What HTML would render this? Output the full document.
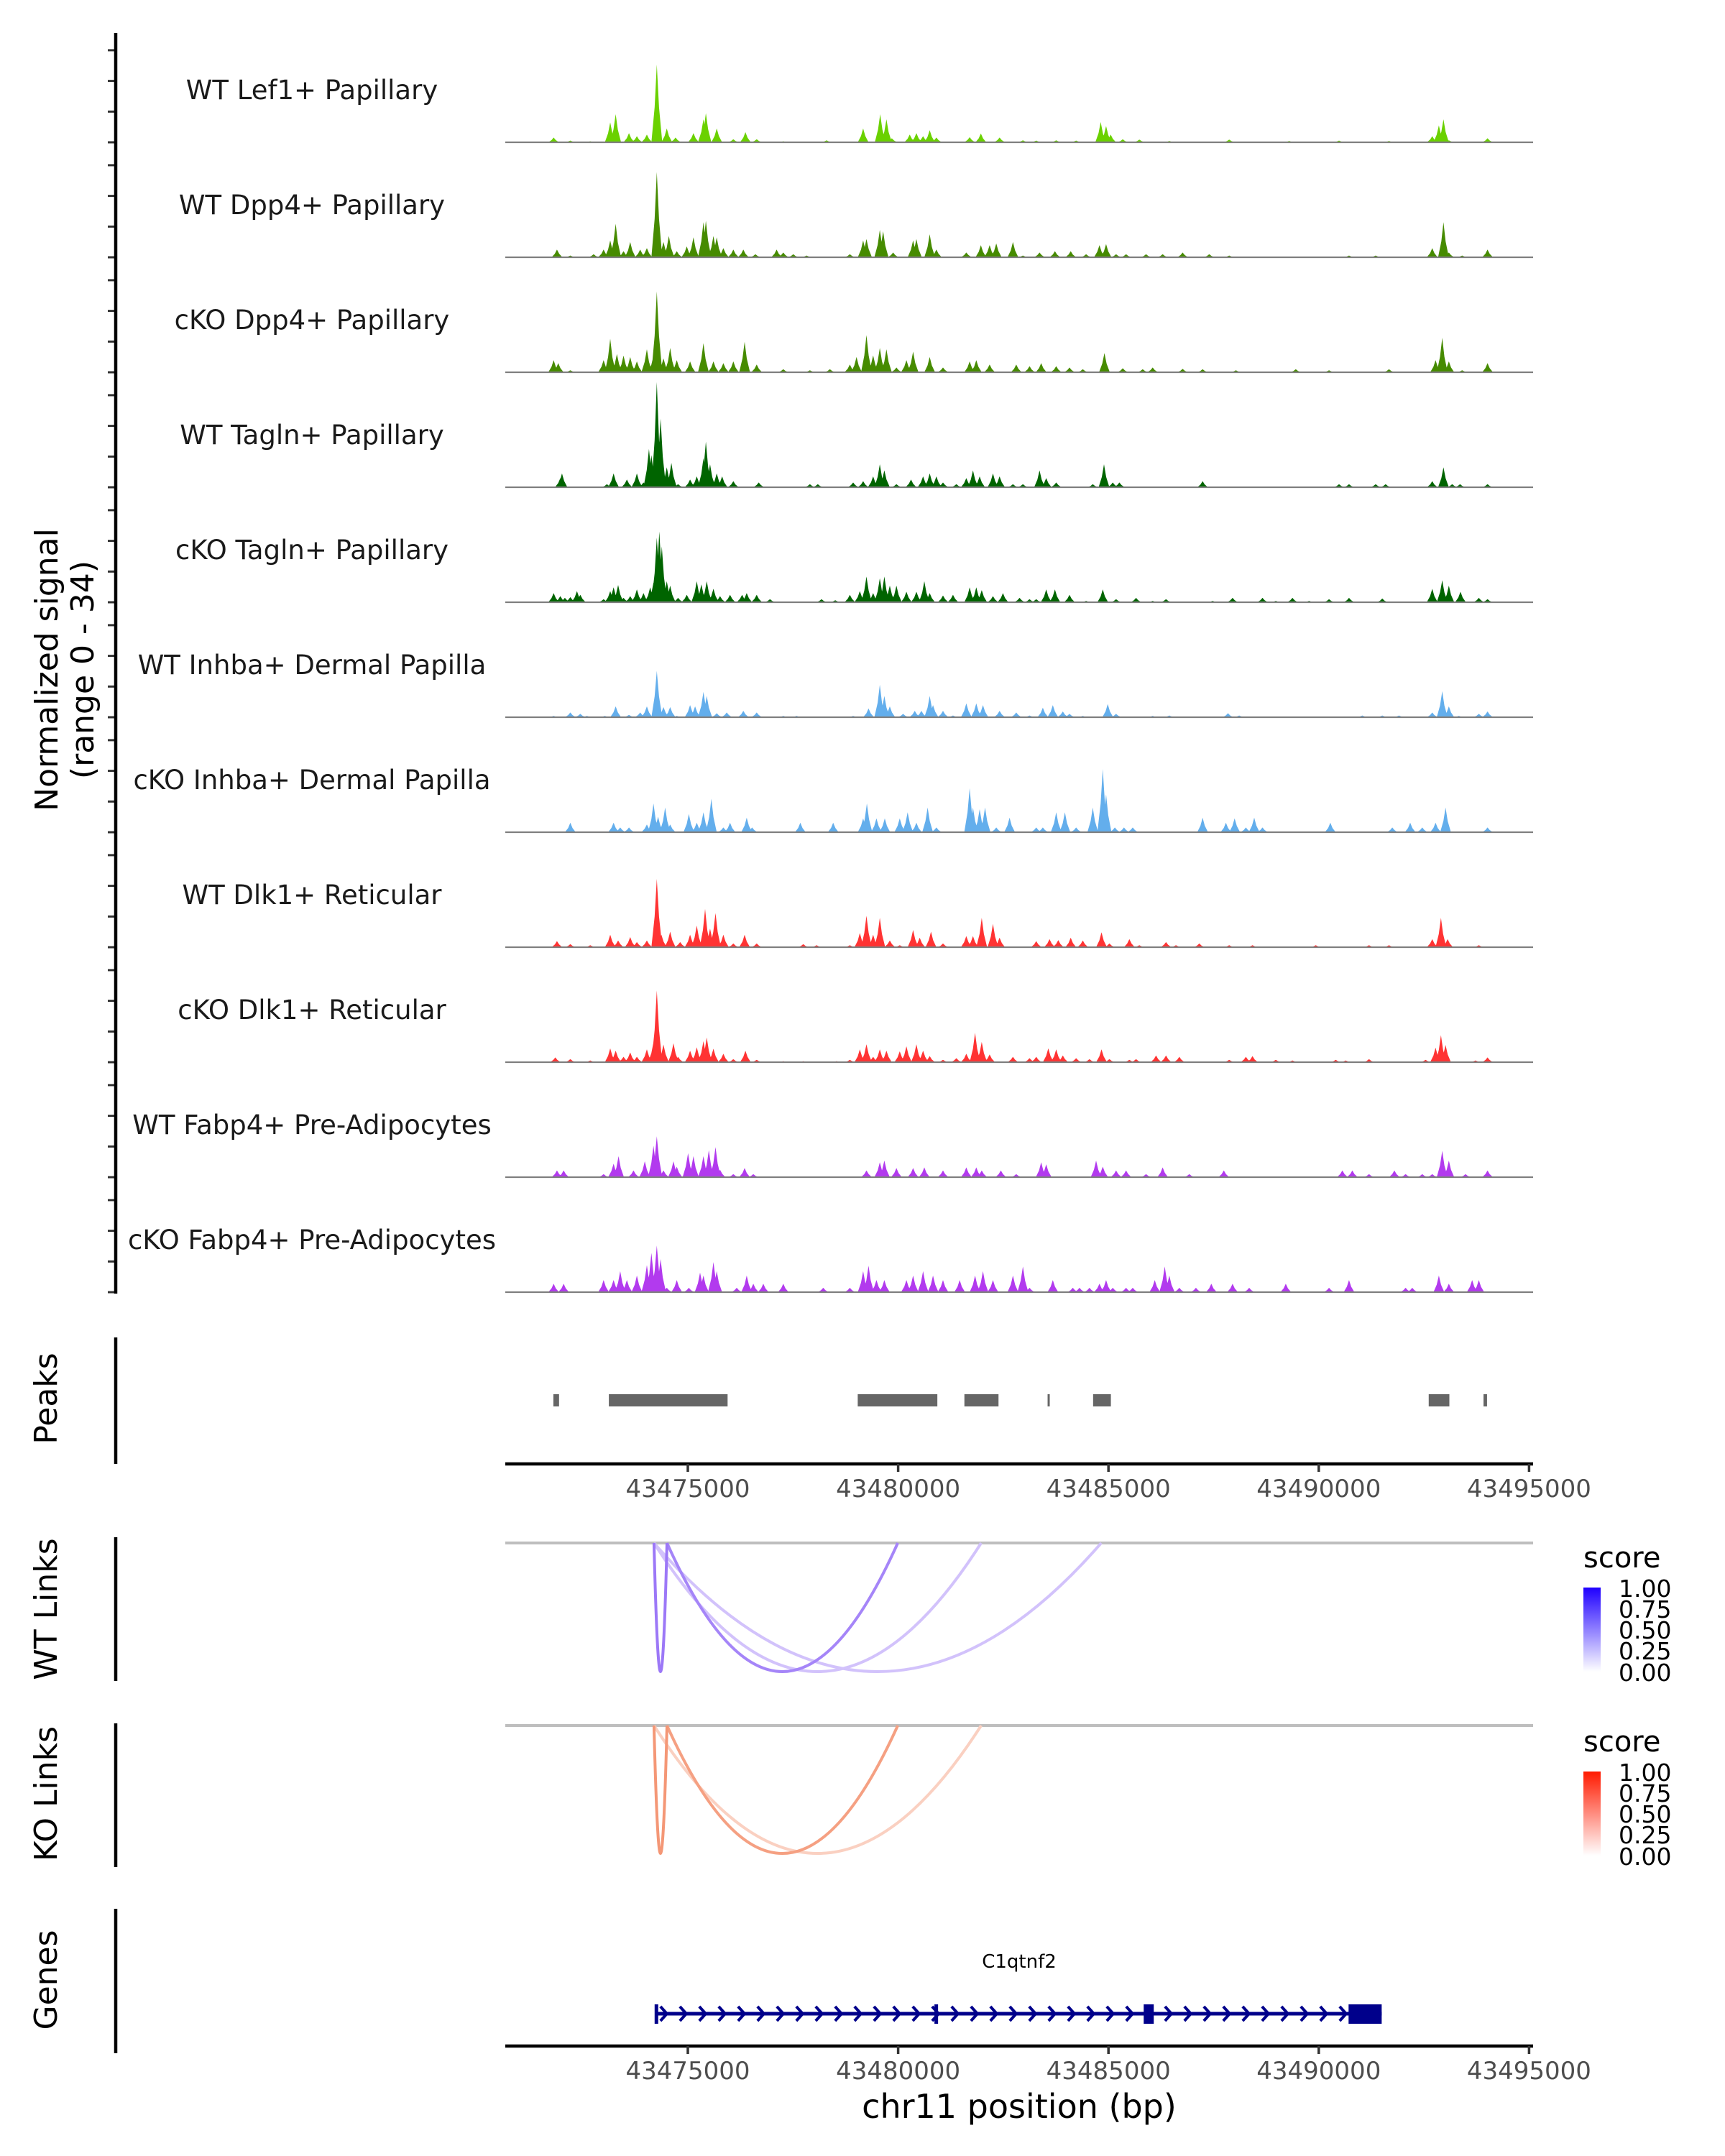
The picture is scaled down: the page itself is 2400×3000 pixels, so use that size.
<!DOCTYPE html>
<html><head><meta charset="utf-8"><title>C1qtnf2 coverage plot</title>
<style>
html,body{margin:0;padding:0;background:#fff;}
svg{display:block;font-family:"DejaVu Sans","Liberation Sans",sans-serif;}
</style></head>
<body>
<svg id="chart" xmlns="http://www.w3.org/2000/svg" width="2400" height="3000" viewBox="0 0 2400 3000">
  <rect x="0" y="0" width="2400" height="3000" fill="#fff"/>
  <g id="tracks"></g>
  <g id="peaks"></g>
  <g id="links"></g>
  <g id="genes"></g>
  <g id="axes"></g>
  <text x="0" y="0" transform="translate(80,932) rotate(-90)" text-anchor="middle" font-size="44" fill="#000">Normalized signal</text>
  <text x="0" y="0" transform="translate(130,932) rotate(-90)" text-anchor="middle" font-size="44" fill="#000">(range 0 - 34)</text>
  <text x="0" y="0" transform="translate(79,1946) rotate(-90)" text-anchor="middle" font-size="44" fill="#000">Peaks</text>
  <text x="0" y="0" transform="translate(79,2239) rotate(-90)" text-anchor="middle" font-size="44" fill="#000">WT Links</text>
  <text x="0" y="0" transform="translate(79,2496) rotate(-90)" text-anchor="middle" font-size="44" fill="#000">KO Links</text>
  <text x="0" y="0" transform="translate(79,2755) rotate(-90)" text-anchor="middle" font-size="44" fill="#000">Genes</text>
  <text x="1418" y="2947" text-anchor="middle" font-size="46" fill="#000">chr11 position (bp)</text>
  <defs>
    <linearGradient id="gradBlue" x1="0" y1="1" x2="0" y2="0">
      <stop offset="0" stop-color="#ffffff"/><stop offset="1" stop-color="#1f00ff"/>
    </linearGradient>
    <linearGradient id="gradRed" x1="0" y1="1" x2="0" y2="0">
      <stop offset="0" stop-color="#ffffff"/><stop offset="1" stop-color="#ff1a00"/>
    </linearGradient>
  </defs>
  <g>
    <text x="2203" y="2181" font-size="40" fill="#000">score</text>
    <rect x="2203" y="2209" width="24" height="117" fill="url(#gradBlue)"/>
    <g font-size="33" fill="#000">
      <text x="2252" y="2222">1.00</text><text x="2252" y="2251">0.75</text><text x="2252" y="2280">0.50</text><text x="2252" y="2309">0.25</text><text x="2252" y="2339">0.00</text>
    </g>
  </g>
  <g>
    <text x="2203" y="2437" font-size="40" fill="#000">score</text>
    <rect x="2203" y="2465" width="24" height="117" fill="url(#gradRed)"/>
    <g font-size="33" fill="#000">
      <text x="2252" y="2478">1.00</text><text x="2252" y="2507">0.75</text><text x="2252" y="2536">0.50</text><text x="2252" y="2565">0.25</text><text x="2252" y="2595">0.00</text>
    </g>
  </g>
</svg>
<script>
// ---- data (positions in kb offset from 43,470,000; values = normalized signal) ----
const REGION_OFFSET = 43470000;
const POS_ANCHOR = 43471800, POS_CALIB = 0.989;
const trackNames = ["WT Lef1+ Papillary","WT Dpp4+ Papillary","cKO Dpp4+ Papillary","WT Tagln+ Papillary","cKO Tagln+ Papillary","WT Inhba+ Dermal Papilla","cKO Inhba+ Dermal Papilla","WT Dlk1+ Reticular","cKO Dlk1+ Reticular","WT Fabp4+ Pre-Adipocytes","cKO Fabp4+ Pre-Adipocytes"];
const trackColors = ["#6ad100","#468b00","#468b00","#006400","#006400","#63aeec","#63aeec","#ff3333","#ff3333","#b23aee","#b23aee"];
const sigLef1WT = [[1.81,1.4],[2.21,0.5],[2.69,0.3],[3.17,5.9],[3.30,8.3],[3.62,2.7],[3.81,1.8],[4.05,2.3],[4.29,23.0],[4.53,4.1],[4.74,1.4],[5.17,2.7],[5.41,6.8],[5.47,8.6],[5.73,4.1],[6.13,0.9],[6.42,3.0],[6.69,0.9],[7.33,0.3],[8.37,0.6],[9.25,4.1],[9.66,8.3],[9.81,6.8],[9.94,1.2],[10.37,2.3],[10.53,2.7],[10.69,1.8],[10.85,3.6],[11.01,1.4],[11.81,1.5],[12.08,2.6],[12.53,1.4],[13.09,0.6],[13.41,0.5],[13.89,0.6],[14.37,0.5],[14.96,6.0],[15.09,4.8],[15.20,2.3],[15.49,0.9],[15.89,0.8],[16.61,0.4],[18.05,0.8],[19.49,0.4],[20.69,0.5],[21.89,0.4],[22.93,1.8],[23.09,5.0],[23.20,6.8],[23.33,0.6],[24.26,1.2]];
const sigDpp4WT = [[1.89,2.3],[2.21,0.5],[2.77,0.9],[3.01,2.3],[3.17,5.0],[3.30,9.9],[3.49,1.8],[3.65,4.5],[3.89,2.3],[4.05,2.7],[4.29,25.2],[4.45,4.5],[4.58,6.3],[4.77,1.8],[5.01,3.2],[5.17,5.9],[5.41,10.4],[5.47,10.8],[5.65,6.3],[5.73,5.9],[5.89,2.7],[6.13,2.3],[6.37,2.3],[6.66,0.9],[7.17,2.3],[7.33,1.4],[7.57,0.9],[7.89,0.5],[8.93,0.9],[9.25,5.0],[9.33,5.4],[9.65,8.1],[9.73,7.7],[9.97,1.4],[10.45,5.0],[10.53,5.4],[10.85,6.8],[11.01,2.3],[11.73,1.4],[12.08,3.6],[12.29,3.6],[12.45,4.1],[12.85,4.5],[13.09,0.5],[13.49,1.4],[13.86,1.8],[14.24,1.8],[14.61,0.9],[14.93,3.6],[15.09,3.9],[15.33,0.9],[15.57,0.9],[16.05,0.9],[16.45,0.9],[16.93,1.4],[17.57,0.9],[18.05,0.5],[20.93,0.5],[21.57,0.5],[22.93,2.7],[23.20,10.4],[23.33,1.4],[23.65,0.5],[24.26,2.3]];
const sigDpp4KO = [[1.81,3.6],[1.92,2.7],[2.21,0.6],[3.01,3.6],[3.17,9.9],[3.33,5.4],[3.49,4.9],[3.65,4.5],[3.81,3.2],[4.05,6.8],[4.21,4.9],[4.29,23.9],[4.45,4.1],[4.61,7.2],[4.77,3.6],[5.09,3.2],[5.41,8.6],[5.65,3.2],[5.89,2.7],[6.13,3.2],[6.40,9.0],[6.69,2.3],[7.33,0.9],[7.97,0.6],[8.45,0.9],[8.93,2.3],[9.09,4.5],[9.33,11.0],[9.49,5.0],[9.65,7.2],[9.81,6.8],[10.05,1.4],[10.29,3.6],[10.45,6.1],[10.85,4.5],[11.17,1.4],[11.81,3.2],[11.97,3.6],[12.29,2.3],[12.93,2.3],[13.25,1.8],[13.53,2.7],[13.89,1.8],[14.21,1.4],[14.53,0.9],[15.05,5.7],[15.49,1.2],[15.97,0.9],[16.21,1.4],[16.93,1.0],[17.41,0.9],[18.21,0.6],[19.65,0.9],[20.45,0.6],[21.89,0.9],[23.01,3.6],[23.17,10.2],[23.33,3.2],[23.65,0.6],[24.26,2.7]];
const sigTaglnWT = [[1.97,2.7],[2.01,4.1],[3.09,0.9],[3.25,4.1],[3.57,2.3],[3.81,4.1],[3.97,1.4],[4.10,11.3],[4.16,9.5],[4.29,31.1],[4.38,20.3],[4.53,5.9],[4.64,7.2],[4.80,0.9],[5.09,2.3],[5.25,3.2],[5.41,8.6],[5.47,13.5],[5.57,6.8],[5.73,4.1],[5.86,3.2],[6.13,1.8],[6.74,1.4],[7.97,0.9],[8.16,0.9],[9.01,1.4],[9.25,1.8],[9.49,3.2],[9.65,6.8],[9.76,5.0],[10.05,0.9],[10.40,2.3],[10.69,3.2],[10.85,4.1],[11.01,3.2],[11.17,1.4],[11.49,0.9],[11.73,2.7],[11.89,5.0],[12.05,3.2],[12.37,4.1],[12.53,3.2],[12.85,0.9],[13.09,0.9],[13.49,5.0],[13.65,2.7],[13.89,1.4],[14.77,0.9],[15.04,6.8],[15.25,1.4],[15.41,1.4],[17.41,1.8],[20.69,0.9],[20.93,0.9],[21.57,0.9],[21.81,0.9],[22.93,1.8],[23.20,5.9],[23.41,0.9],[23.60,0.9],[24.26,0.9]];
const sigTaglnKO = [[1.81,2.7],[1.97,1.8],[2.08,1.3],[2.21,1.5],[2.37,3.3],[2.45,2.2],[3.01,0.9],[3.17,3.3],[3.25,4.4],[3.36,5.1],[3.49,1.3],[3.65,1.8],[3.81,3.8],[3.97,2.7],[4.13,4.4],[4.21,5.8],[4.29,19.1],[4.35,20.9],[4.41,16.5],[4.53,6.2],[4.61,4.9],[4.80,1.3],[5.01,2.2],[5.25,6.2],[5.36,5.3],[5.49,6.2],[5.65,4.0],[5.81,1.8],[6.05,2.2],[6.34,2.2],[6.45,2.7],[6.69,2.2],[7.01,0.9],[8.25,0.9],[8.58,0.6],[8.93,2.2],[9.17,3.3],[9.33,7.6],[9.49,2.7],[9.65,7.1],[9.76,7.6],[9.89,4.9],[10.05,4.9],[10.29,3.1],[10.53,3.1],[10.72,6.2],[10.85,2.7],[11.17,2.0],[11.41,2.2],[11.81,4.4],[11.97,4.4],[12.10,3.6],[12.37,1.8],[12.61,2.7],[13.01,1.3],[13.25,0.9],[13.41,0.9],[13.65,3.8],[13.86,3.8],[14.21,2.2],[14.61,0.4],[15.01,3.8],[15.33,0.9],[15.81,1.3],[16.21,0.4],[16.53,0.9],[17.65,0.4],[18.13,1.3],[18.85,1.3],[19.17,0.4],[19.57,1.3],[19.97,0.4],[20.45,0.9],[20.93,1.3],[21.73,1.1],[22.93,4.0],[23.17,6.5],[23.33,4.9],[23.61,3.1],[24.05,1.3],[24.26,0.9]];
const sigInhbaWT = [[1.81,0.4],[2.21,1.4],[2.45,1.0],[2.61,0.4],[3.04,0.4],[3.30,3.2],[3.62,0.7],[3.89,1.4],[4.05,3.2],[4.29,13.7],[4.45,3.0],[4.61,3.0],[4.77,0.4],[5.09,3.6],[5.21,3.2],[5.41,7.5],[5.49,6.3],[5.73,1.2],[5.97,1.4],[6.37,1.9],[6.69,1.4],[7.33,0.4],[7.65,0.4],[9.01,0.4],[9.38,2.6],[9.65,9.6],[9.76,6.3],[9.89,3.2],[10.21,1.0],[10.49,1.9],[10.65,1.9],[10.85,6.3],[10.93,3.6],[11.17,1.9],[11.41,0.5],[11.73,4.1],[11.97,4.1],[12.13,3.6],[12.53,1.9],[12.93,1.4],[13.25,0.5],[13.57,2.8],[13.81,3.6],[14.05,1.7],[14.21,1.0],[14.53,0.4],[15.13,3.9],[15.33,1.0],[16.21,0.4],[16.61,0.5],[18.02,1.2],[18.29,0.5],[21.25,0.5],[21.73,0.5],[22.13,0.5],[22.93,1.4],[23.17,7.7],[23.33,3.2],[23.57,0.4],[24.05,1.0],[24.26,1.7]];
const sigInhbaKO = [[2.21,2.8],[3.25,2.8],[3.41,1.4],[3.62,1.4],[4.05,2.3],[4.21,8.5],[4.32,4.6],[4.49,7.3],[4.61,2.3],[5.06,5.4],[5.25,2.8],[5.41,5.9],[5.60,9.9],[5.89,1.4],[6.05,2.8],[6.45,4.3],[6.58,1.4],[7.74,2.8],[8.53,2.8],[9.25,4.1],[9.34,8.5],[9.57,4.1],[9.77,4.1],[10.13,4.1],[10.32,5.9],[10.53,2.8],[10.80,7.3],[11.01,1.4],[11.81,13.0],[11.89,7.3],[12.05,6.8],[12.18,7.3],[12.45,1.4],[12.77,4.3],[13.41,1.4],[13.57,1.4],[13.89,5.9],[14.10,5.9],[14.37,1.4],[14.77,7.3],[15.01,18.7],[15.09,11.2],[15.30,1.4],[15.52,1.4],[15.73,1.4],[17.41,4.3],[17.97,2.8],[18.18,4.1],[18.45,1.4],[18.65,4.3],[18.85,1.4],[20.48,2.8],[21.97,1.4],[22.40,2.8],[22.69,1.4],[23.01,2.8],[23.25,7.3],[24.26,1.4]];
const sigDlk1WT = [[1.89,1.8],[2.21,0.9],[2.69,0.6],[3.17,3.7],[3.36,2.0],[3.65,3.0],[3.81,1.5],[4.05,2.0],[4.29,20.2],[4.40,3.7],[4.61,4.6],[4.85,1.5],[5.09,3.7],[5.25,6.4],[5.45,11.3],[5.57,5.5],[5.70,10.1],[5.89,3.7],[6.13,1.1],[6.40,3.7],[6.69,1.1],[7.81,0.9],[8.13,0.6],[8.93,0.6],[9.17,4.2],[9.33,9.3],[9.49,3.7],[9.65,8.7],[9.89,2.0],[10.13,0.6],[10.45,5.1],[10.61,2.8],[10.88,4.6],[11.17,1.1],[11.73,3.3],[11.89,3.3],[12.10,8.7],[12.37,6.9],[12.53,2.8],[13.41,1.8],[13.73,2.4],[13.94,2.1],[14.24,2.8],[14.53,2.0],[14.98,4.4],[15.17,1.1],[15.65,2.4],[15.89,0.6],[16.53,1.5],[16.77,0.6],[17.33,1.1],[18.05,0.6],[18.61,0.6],[20.13,0.6],[21.41,0.6],[21.89,0.6],[22.93,2.4],[23.14,8.7],[23.30,2.4],[24.05,0.6]];
const sigDlk1KO = [[1.85,1.4],[2.21,0.9],[2.69,0.5],[3.17,4.1],[3.30,3.4],[3.49,1.6],[3.65,2.9],[3.81,1.6],[4.05,3.8],[4.21,5.9],[4.29,21.2],[4.45,5.2],[4.69,5.6],[4.80,1.6],[5.09,3.4],[5.25,4.4],[5.41,6.2],[5.49,7.3],[5.65,4.0],[5.89,2.5],[6.13,0.9],[6.42,3.4],[6.69,0.7],[7.33,0.3],[7.81,0.3],[8.61,0.3],[8.93,0.7],[9.17,3.8],[9.33,5.3],[9.49,1.6],[9.65,3.8],[9.81,3.4],[10.13,3.2],[10.29,4.7],[10.53,5.3],[10.69,3.4],[10.85,1.8],[11.17,0.7],[11.49,1.2],[11.73,2.5],[11.94,8.7],[12.10,6.0],[12.29,2.3],[12.85,1.6],[13.25,1.2],[13.41,1.6],[13.70,4.1],[13.89,3.8],[14.05,2.0],[14.37,1.2],[14.69,0.9],[14.98,3.8],[15.17,0.9],[15.65,0.7],[15.81,0.9],[16.29,2.0],[16.53,2.0],[16.85,1.6],[18.05,0.7],[18.45,1.6],[18.61,1.8],[19.17,0.7],[19.57,0.5],[20.61,0.7],[20.85,0.5],[21.41,0.9],[22.13,0.2],[22.77,0.7],[23.01,4.3],[23.14,8.0],[23.25,5.1],[23.97,0.5],[24.26,1.4]];
const sigFabp4WT = [[1.89,2.0],[2.05,2.0],[3.01,0.9],[3.25,4.0],[3.37,6.2],[3.73,2.0],[4.00,4.7],[4.21,9.3],[4.29,12.1],[4.45,2.0],[4.69,4.7],[4.77,3.1],[5.04,7.1],[5.17,6.2],[5.41,6.2],[5.54,8.0],[5.70,8.9],[5.81,2.2],[6.13,0.9],[6.40,2.7],[6.61,0.9],[9.33,2.0],[9.65,4.4],[9.76,4.9],[10.05,2.7],[10.45,2.7],[10.72,2.9],[11.17,2.0],[11.73,2.9],[11.97,2.9],[12.10,2.0],[12.56,2.0],[12.93,0.9],[13.53,4.4],[13.65,3.8],[14.85,4.9],[15.01,3.1],[15.33,2.0],[15.57,2.0],[16.05,0.9],[16.45,2.9],[17.09,0.9],[17.92,2.0],[20.77,2.0],[21.01,2.0],[21.41,0.9],[22.02,2.0],[22.29,0.9],[22.69,0.9],[22.93,0.9],[23.17,7.8],[23.33,4.9],[23.73,0.9],[24.26,2.0]];
const sigFabp4KO = [[1.81,2.5],[2.05,2.5],[3.01,3.6],[3.25,3.6],[3.41,6.2],[3.57,3.6],[3.81,4.9],[4.05,8.0],[4.16,11.6],[4.29,13.8],[4.38,9.8],[4.53,1.3],[4.77,3.6],[5.06,1.3],[5.33,5.8],[5.41,4.9],[5.65,8.9],[5.73,6.2],[6.21,1.3],[6.45,4.9],[6.61,2.5],[6.85,2.5],[7.33,2.5],[8.29,1.3],[8.93,1.3],[9.25,6.2],[9.38,7.8],[9.57,3.6],[9.76,3.6],[10.29,3.6],[10.45,4.9],[10.69,6.2],[10.93,4.9],[11.17,3.6],[11.57,3.6],[11.94,4.9],[12.13,6.2],[12.37,3.6],[12.85,4.9],[13.09,7.6],[13.25,1.3],[13.81,3.6],[14.29,1.3],[14.45,1.3],[14.69,1.3],[14.93,2.5],[15.09,3.6],[15.25,1.3],[15.57,1.3],[15.73,1.3],[16.26,3.6],[16.50,7.6],[16.61,4.9],[16.85,1.3],[17.25,1.3],[17.62,2.5],[18.13,2.5],[18.53,1.3],[19.41,2.5],[20.45,1.3],[20.93,3.6],[22.29,1.3],[22.45,1.3],[23.09,4.9],[23.33,2.5],[23.89,3.6],[24.05,3.6]];
const trackSignals = [sigLef1WT,sigDpp4WT,sigDpp4KO,sigTaglnWT,sigTaglnKO,sigInhbaWT,sigInhbaKO,sigDlk1WT,sigDlk1KO,sigFabp4WT,sigFabp4KO];
const peakStarts = [43471803,43473122,43479039,43481575,43483553,43484635,43492614,43493917];
const peakEnds   = [43471938,43475945,43480932,43482386,43483604,43485058,43493105,43494001];
const wtLinkStarts = [43474195,43474504,43474195,43474195];
const wtLinkEnds   = [43474504,43479991,43481974,43484829];
const wtLinkScores = [0.55,0.5,0.25,0.25];
const koLinkStarts = [43474195,43474504,43474195];
const koLinkEnds   = [43474504,43479991,43481974];
const koLinkScores = [0.55,0.5,0.25];
const geneStart = 43474246, geneEnd = 43491496;
const exonStarts = [43474210,43480863,43485838,43490709];
const exonEnds   = [43474290,43480949,43486077,43491496];
const geneLabel = "C1qtnf2";
const xTicks = [43475000,43480000,43485000,43490000,43495000];
const SIGNAL_MAX = 34;

// ---- scales & layout ----
const NS = "http://www.w3.org/2000/svg";
const PLOT_L = 703, PLOT_R = 2133;
function xScale(bp){ return 957 + (bp - 43475000) / 5000 * 292.6; }
function kbToBp(k){ return POS_ANCHOR + (k * 1000 + REGION_OFFSET - POS_ANCHOR) * POS_CALIB; }
const TRACK_BASE0 = 198, TRACK_STEP = 160, TRACK_H = 160;
function yScale(v, base){ return base - v / SIGNAL_MAX * TRACK_H; }
function mk(tag, attrs, parent){
  const e = document.createElementNS(NS, tag);
  for (const k in attrs) e.setAttribute(k, attrs[k]);
  parent.appendChild(e); return e;
}
const gTracks = document.getElementById('tracks');
const gAxes = document.getElementById('axes');
const HW = 0.13; // peak half width in kb

trackNames.forEach((name, i) => {
  const base = TRACK_BASE0 + i * TRACK_STEP;
  const g = mk('g', {}, gTracks);
  
  
  let d = '';
  trackSignals[i].forEach(p => {
    const c = p[0];
    const xs = [c-HW, c-HW*0.4, c, c+HW*0.4, c+HW].map(k => xScale(kbToBp(k)));
    const ys = [0, p[1]*0.45, p[1], p[1]*0.45, 0].map(v => yScale(v, base));
    d += 'M' + xs.map((x,j) => x.toFixed(1) + ' ' + ys[j].toFixed(1)).join(' L') + ' Z ';
  });
  const area = mk('path', {d: d, fill: trackColors[i], stroke: 'none'}, g);
  
  
  const bl = mk('line', {x1: PLOT_L, x2: PLOT_R, y1: base, y2: base, stroke: '#7f7f7f', 'stroke-width': 2.2}, g);
  
  
  const lab = mk('text', {x: 434, y: base - 60, 'text-anchor': 'middle', 'font-size': 37, fill: '#1a1a1a'}, g);
  lab.textContent = name;
  
  
  for (let t = 0; t < 4; t++) {
    const ty = base - t * 42.7;
    const tk = mk('line', {x1: 150, x2: 160, y1: ty, y2: ty, stroke: '#333', 'stroke-width': 3}, g);
    
    
  }
});
// left axis lines
[[46,1800],[1861,2037],[2139,2339],[2398,2598],[2656,2857]].forEach(s => {
  const l = mk('line', {x1: 161, x2: 161, y1: s[0], y2: s[1], stroke: '#000', 'stroke-width': 4.5}, gAxes);
  
  
});

// peaks
const gPeaks = document.getElementById('peaks');
peakStarts.forEach((s, i) => {
  const x1 = xScale(s), x2 = xScale(peakEnds[i]);
  const r = mk('rect', {x: x1, y: 1940, width: Math.max(3, x2 - x1), height: 17, fill: '#666666'}, gPeaks);
  
  
});

// x axes
function drawXAxis(y, name){
  const g = mk('g', {}, gAxes);
  
  
  mk('line', {x1: PLOT_L, x2: PLOT_R, y1: y, y2: y, stroke: '#000', 'stroke-width': 4.5}, g);
  xTicks.forEach(t => {
    const x = xScale(t);
    mk('line', {x1: x, x2: x, y1: y, y2: y + 11, stroke: '#333', 'stroke-width': 3.5}, g);
    const tx = mk('text', {x: x, y: y + 46, 'text-anchor': 'middle', 'font-size': 34, fill: '#4d4d4d'}, g);
    tx.textContent = String(t);
    
    
  });
}
drawXAxis(2037, 'peaks-x-axis');
drawXAxis(2847, 'genes-x-axis');

// links
const gLinks = document.getElementById('links');
function mixColor(base, s){
  const c = base.map(v => Math.round(255 + (v - 255) * s));
  return 'rgb(' + c.join(',') + ')';
}
function drawLinks(starts, ends, scores, baseY, depth, baseColor, name){
  const g = mk('g', {}, gLinks);
  
  
  mk('line', {x1: PLOT_L, x2: PLOT_R, y1: baseY, y2: baseY, stroke: '#bebebe', 'stroke-width': 4}, g);
  const order = scores.map((s,i)=>i).sort((a,b)=>scores[a]-scores[b]);
  order.forEach(i => {
    const x1 = xScale(starts[i]), x2 = xScale(ends[i]);
    const p = mk('path', {d: 'M' + x1 + ' ' + baseY + ' Q ' + ((x1+x2)/2) + ' ' + (baseY + 2*depth) + ' ' + x2 + ' ' + baseY,
      fill: 'none', stroke: mixColor(baseColor, scores[i]), 'stroke-width': 4}, g);
    
    
  });
}
drawLinks(wtLinkStarts, wtLinkEnds, wtLinkScores, 2147, 179, [75,10,240], 'wt-links');
drawLinks(koLinkStarts, koLinkEnds, koLinkScores, 2401, 178, [235,65,5], 'ko-links');

// gene
const gGenes = document.getElementById('genes');
const NAVY = '#00008b', GY = 2802;
const gx1 = xScale(geneStart), gx2 = xScale(geneEnd);
const gl = mk('line', {x1: gx1, x2: gx2, y1: GY, y2: GY, stroke: NAVY, 'stroke-width': 5}, gGenes);


for (let x = gx1 + 10; x < gx2 - 40; x += 27) {
  const ch = mk('polyline', {points: (x-4)+','+(GY-10)+' '+(x+5)+','+GY+' '+(x-4)+','+(GY+10), fill: 'none', stroke: NAVY, 'stroke-width': 4}, gGenes);
  
  
}
exonStarts.forEach((s, i) => {
  const x1 = xScale(s), x2 = xScale(exonEnds[i]);
  const r = mk('rect', {x: x1, y: GY - 13, width: Math.max(5, x2 - x1), height: 27, fill: NAVY}, gGenes);
  
  
});
const glab = mk('text', {x: (PLOT_L + PLOT_R)/2, y: 2738, 'text-anchor': 'middle', 'font-size': 26, fill: '#000'}, gGenes);
glab.textContent = geneLabel;


</script>
</body></html>
